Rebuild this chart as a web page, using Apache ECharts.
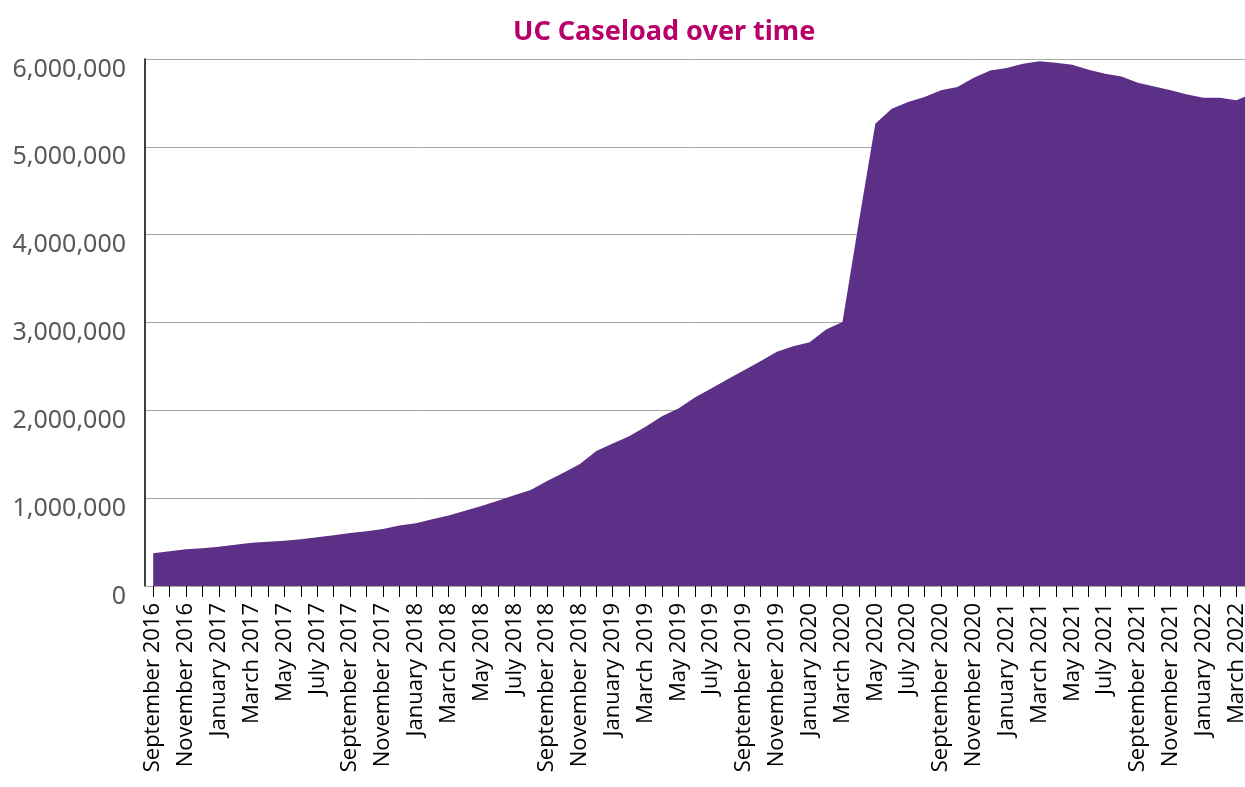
<!DOCTYPE html>
<html>
<head>
<meta charset="utf-8">
<script src="https://cdn.jsdelivr.net/npm/echarts@6/dist/echarts.min.js"></script>
<style>
html,body{margin:0;padding:0;background:#fff;}
#chart{width:1245px;height:787px;}
</style>
</head>
<body>
<div id="chart"></div>
<script>
var chartTitle = 'UC Caseload over time';

var months = [
  'September 2016','October 2016','November 2016','December 2016',
  'January 2017','February 2017','March 2017','April 2017','May 2017','June 2017','July 2017','August 2017','September 2017','October 2017','November 2017','December 2017',
  'January 2018','February 2018','March 2018','April 2018','May 2018','June 2018','July 2018','August 2018','September 2018','October 2018','November 2018','December 2018',
  'January 2019','February 2019','March 2019','April 2019','May 2019','June 2019','July 2019','August 2019','September 2019','October 2019','November 2019','December 2019',
  'January 2020','February 2020','March 2020','April 2020','May 2020','June 2020','July 2020','August 2020','September 2020','October 2020','November 2020','December 2020',
  'January 2021','February 2021','March 2021','April 2021','May 2021','June 2021','July 2021','August 2021','September 2021','October 2021','November 2021','December 2021',
  'January 2022','February 2022','March 2022','April 2022'
];

var caseload = [
  372000, 395000, 417000, 429000,
  447000, 470000, 493000, 504000, 516000, 531000, 554000, 577000, 603000, 622000, 648000, 690000,
  713000, 759000, 804000, 857000, 910000, 970000, 1032000, 1092000, 1195000, 1289000, 1388000, 1536000,
  1623000, 1706000, 1812000, 1934000, 2020000, 2147000, 2249000, 2355000, 2457000, 2560000, 2666000, 2730000,
  2776000, 2920000, 3007000, 4150000, 5264000, 5435000, 5510000, 5567000, 5643000, 5680000, 5787000, 5870000,
  5897000, 5947000, 5973000, 5957000, 5935000, 5878000, 5833000, 5802000, 5730000, 5688000, 5643000, 5597000,
  5559000, 5559000, 5529000, 5610000
];

var yTicks = [0, 1000000, 2000000, 3000000, 4000000, 5000000, 6000000];

var chart = echarts.init(document.getElementById('chart'), null, {renderer: 'canvas'});
chart.setOption({
  animation: false,
  backgroundColor: '#ffffff',
  title: {
    text: chartTitle,
    left: 508,
    top: 14,
    textStyle: {
      color: '#B8006B',
      fontFamily: 'Noto Sans',
      fontWeight: 'bold',
      fontSize: 27
    }
  },
  grid: {
    left: 145,
    width: 1116,
    top: 59,
    bottom: 201,
    containLabel: false,
    outerBoundsMode: 'none'
  },
  xAxis: {
    type: 'category',
    data: months,
    boundaryGap: true,
    axisLine: {show: true, lineStyle: {color: '#a6a6a6', width: 1}},
    axisTick: {
      show: true,
      interval: 0,
      alignWithLabel: true,
      length: 11,
      lineStyle: {color: '#000000', width: 1}
    },
    axisLabel: {
      interval: 1,
      rotate: 90,
      margin: 17,
      color: '#000000',
      fontFamily: 'Open Sans',
      fontSize: 22
    },
    splitLine: {show: false}
  },
  yAxis: {
    type: 'value',
    min: yTicks[0],
    max: yTicks[yTicks.length - 1],
    interval: 1000000,
    axisLine: {show: true, lineStyle: {color: '#000000', width: 1.5}},
    axisTick: {show: false},
    splitLine: {show: true, lineStyle: {color: '#a6a6a6', width: 1}},
    axisLabel: {
      margin: 19,
      color: '#595959',
      fontFamily: 'Noto Sans',
      fontSize: 25,
      verticalAlign: 'top',
      lineHeight: 21,
      formatter: function (v) { return v.toLocaleString('en-US'); }
    }
  },
  series: [{
    type: 'line',
    data: caseload,
    showSymbol: false,
    smooth: false,
    lineStyle: {width: 0, color: '#5d3087'},
    itemStyle: {color: '#5d3087'},
    areaStyle: {color: '#5d3087', opacity: 1}
  }]
});
</script>
</body>
</html>
